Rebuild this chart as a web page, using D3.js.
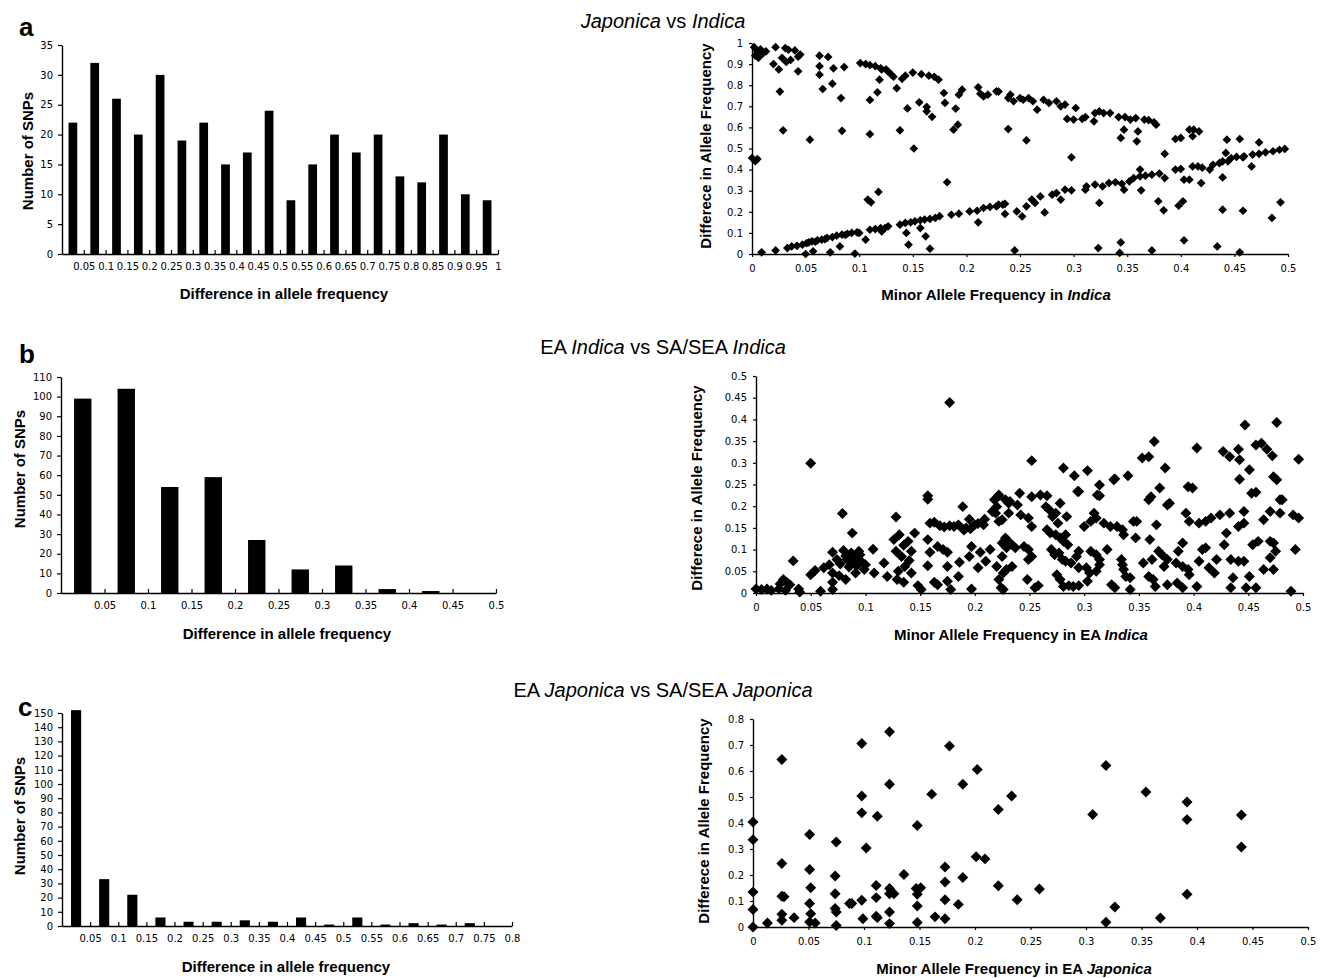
<!DOCTYPE html>
<html>
<head>
<meta charset="utf-8">
<script src="https://cdn.jsdelivr.net/npm/d3@7"></script>
<style>
  body { margin: 0; background: #fff; }
  svg { display: block; }
</style>
</head>
<body>
<script>
// ---- histogram data (number of SNPs per bin of allele frequency difference)
const countsA = [22, 32, 26, 20, 30, 19, 22, 15, 17, 24, 9, 15, 20, 17, 20, 13, 12, 20, 10, 9];
const countsB = [99, 104, 54, 59, 27, 12, 14, 2, 1, 0];
const countsC = [152, 33, 22, 6, 3, 3, 4, 3, 6, 1, 6, 1, 2, 1, 2, 0];

const binLabelsA = ["0.05","0.1","0.15","0.2","0.25","0.3","0.35","0.4","0.45","0.5","0.55","0.6","0.65","0.7","0.75","0.8","0.85","0.9","0.95","1"];
const binLabelsB = ["0.05","0.1","0.15","0.2","0.25","0.3","0.35","0.4","0.45","0.5"];
const binLabelsC = ["0.05","0.1","0.15","0.2","0.25","0.3","0.35","0.4","0.45","0.5","0.55","0.6","0.65","0.7","0.75","0.8"];

const countTicksA = [0, 5, 10, 15, 20, 25, 30, 35];
const countTicksB = [0, 10, 20, 30, 40, 50, 60, 70, 80, 90, 100, 110];
const countTicksC = [0, 10, 20, 30, 40, 50, 60, 70, 80, 90, 100, 110, 120, 130, 140, 150];

// ---- scatter axes
const mafTicks = [0, 0.05, 0.1, 0.15, 0.2, 0.25, 0.3, 0.35, 0.4, 0.45, 0.5];
const diffTicksA = [0, 0.1, 0.2, 0.3, 0.4, 0.5, 0.6, 0.7, 0.8, 0.9, 1];
const diffTicksB = [0, 0.05, 0.1, 0.15, 0.2, 0.25, 0.3, 0.35, 0.4, 0.45, 0.5];
const diffTicksC = [0, 0.1, 0.2, 0.3, 0.4, 0.5, 0.6, 0.7, 0.8];

// ---- scatter data: [minor allele frequency, difference in allele frequency]
const scatterA = [
  [0.002,0.98],[0.005,0.96],[0.008,0.97],[0.003,0.94],[0.010,0.95],[0.013,0.96],[0.006,0.93],
  [0.022,0.98],[0.031,0.976],[0.034,0.968],[0.040,0.965],[0.028,0.93],[0.032,0.91],[0.036,0.92],
  [0.045,0.945],[0.043,0.935],[0.020,0.90],[0.025,0.875],[0.043,0.866],[0.026,0.77],[0.029,0.586],
  [0.054,0.542],[0.000,0.455],[0.003,0.44],[0.005,0.45],[0.063,0.94],[0.071,0.934],[0.063,0.89],
  [0.063,0.85],[0.066,0.782],[0.076,0.88],[0.075,0.807],[0.086,0.886],[0.083,0.739],[0.084,0.584],
  [0.101,0.905],[0.106,0.90],[0.110,0.895],[0.115,0.89],[0.120,0.88],[0.125,0.875],
  [0.110,0.73],[0.110,0.568],[0.119,0.826],[0.117,0.766],[0.121,0.875],[0.127,0.865],[0.130,0.85],[0.132,0.84],
  [0.135,0.786],[0.138,0.586],[0.140,0.83],[0.143,0.845],[0.150,0.86],[0.158,0.852],[0.165,0.845],[0.170,0.84],
  [0.145,0.69],[0.156,0.719],[0.163,0.697],[0.163,0.676],[0.168,0.65],[0.151,0.50],
  [0.174,0.826],[0.179,0.763],[0.180,0.716],[0.190,0.689],[0.188,0.589],[0.192,0.613],[0.193,0.755],[0.196,0.779],
  [0.182,0.34],[0.211,0.79],[0.213,0.76],[0.216,0.747],[0.220,0.755],[0.230,0.77],[0.239,0.739],[0.239,0.592],
  [0.228,0.771],[0.241,0.755],[0.244,0.724],[0.250,0.739],[0.253,0.731],[0.258,0.739],[0.266,0.684],[0.262,0.724],
  [0.272,0.731],[0.277,0.716],[0.284,0.724],[0.288,0.70],[0.292,0.708],[0.302,0.692],
  [0.294,0.64],[0.300,0.637],[0.308,0.64],[0.311,0.649],[0.319,0.629],[0.320,0.668],[0.324,0.676],[0.328,0.668],[0.334,0.668],
  [0.342,0.649],[0.348,0.649],[0.353,0.637],[0.358,0.644],[0.366,0.637],[0.370,0.634],[0.375,0.624],[0.377,0.613],
  [0.256,0.539],[0.298,0.458],[0.344,0.55],[0.347,0.589],[0.359,0.534],[0.360,0.581],
  [0.385,0.475],[0.395,0.545],[0.400,0.55],[0.408,0.589],[0.412,0.589],[0.417,0.581],[0.411,0.558],
  [0.443,0.542],[0.455,0.545],[0.473,0.529],[0.442,0.479],[0.458,0.458],[0.466,0.415],
  [0.009,0.008],[0.022,0.017],[0.033,0.028],[0.037,0.036],[0.042,0.039],[0.047,0.044],[0.051,0.052],[0.053,0.055],
  [0.056,0.06],[0.059,0.058],[0.061,0.065],[0.065,0.068],[0.068,0.07],[0.07,0.076],[0.075,0.08],[0.079,0.087],
  [0.084,0.092],[0.087,0.09],[0.089,0.096],[0.093,0.1],[0.098,0.103],[0.100,0.1],
  [0.106,0.068],[0.11,0.115],[0.115,0.118],[0.12,0.123],[0.124,0.123],[0.127,0.131],[0.121,0.107],
  [0.138,0.139],[0.143,0.147],[0.148,0.15],[0.152,0.155],[0.157,0.16],[0.161,0.163],[0.166,0.166],[0.171,0.171],[0.175,0.179],
  [0.144,0.1],[0.157,0.123],[0.162,0.084],[0.146,0.044],[0.166,0.025],
  [0.186,0.186],[0.193,0.191],[0.203,0.202],[0.21,0.205],[0.216,0.218],[0.222,0.223],[0.228,0.226],[0.234,0.234],
  [0.211,0.15],[0.236,0.19],[0.073,0.008],[0.096,0.002],[0.082,0.036],[0.057,0.013],[0.05,0.0],
  [0.108,0.258],[0.111,0.245],[0.118,0.294],
  [0.23,0.234],[0.236,0.238],[0.247,0.202],[0.252,0.178],[0.256,0.226],[0.261,0.258],[0.264,0.242],[0.269,0.273],
  [0.273,0.197],[0.28,0.281],[0.284,0.289],[0.288,0.258],[0.292,0.305],[0.298,0.302],[0.311,0.305],[0.312,0.321],
  [0.32,0.329],[0.327,0.321],[0.324,0.242],
  [0.333,0.336],[0.339,0.34],[0.345,0.333],[0.352,0.344],[0.356,0.36],[0.362,0.368],[0.367,0.371],[0.373,0.376],[0.38,0.381],
  [0.347,0.305],[0.362,0.4],[0.363,0.302],[0.379,0.25],[0.384,0.207],
  [0.385,0.36],[0.395,0.4],[0.4,0.403],[0.403,0.352],[0.408,0.352],[0.411,0.415],[0.416,0.415],[0.419,0.336],[0.42,0.409],
  [0.427,0.4],[0.43,0.423],[0.436,0.431],[0.439,0.439],[0.444,0.439],[0.447,0.455],[0.452,0.46],[0.459,0.463],[0.467,0.471],
  [0.473,0.475],[0.479,0.482],[0.486,0.487],[0.492,0.494],[0.497,0.498],
  [0.402,0.25],[0.398,0.229],[0.439,0.363],[0.439,0.21],[0.458,0.205],[0.493,0.245],[0.485,0.171],
  [0.245,0.017],[0.323,0.028],[0.344,0.055],[0.343,0.005],[0.373,0.017],[0.403,0.065],[0.434,0.036],[0.455,0.008]
];

const scatterB = [
  [0,0.009],[0.005,0.008],[0.01,0.009],[0.014,0.006],[0.021,0.009],[0.022,0.021],[0.025,0.031],[0.028,0.025],
  [0.031,0.019],[0.027,0.006],[0.039,0.009],[0.04,0.002],[0.034,0.074],[0.05,0.299],
  [0.05,0.042],[0.054,0.052],[0.059,0.004],[0.062,0.058],[0.067,0.065],[0.07,0.094],[0.07,0.046],[0.07,0.025],[0.07,0.008],
  [0.079,0.183],[0.08,0.098],[0.074,0.077],[0.077,0.067],[0.076,0.04],[0.082,0.031],[0.083,0.077],[0.088,0.138],
  [0.087,0.092],[0.09,0.077],[0.093,0.084],[0.096,0.073],[0.099,0.054],[0.094,0.096],[0.091,0.046],
  [0.085,0.06],[0.088,0.07],[0.092,0.062],[0.095,0.088],[0.1,0.065],[0.082,0.085],
  [0.107,0.101],[0.108,0.046],[0.117,0.069],[0.12,0.038],
  [0.128,0.175],[0.126,0.123],[0.131,0.134],[0.128,0.096],[0.133,0.084],[0.136,0.061],[0.129,0.031],[0.139,0.119],
  [0.142,0.096],[0.145,0.138],[0.142,0.046],[0.148,0.017],[0.151,0.008],[0.135,0.11],[0.14,0.075],[0.13,0.05],[0.135,0.025],
  [0.157,0.224],[0.157,0.216],[0.159,0.161],[0.163,0.163],[0.157,0.123],[0.159,0.094],[0.157,0.063],[0.166,0.107],
  [0.163,0.025],[0.166,0.019],[0.171,0.1],[0.177,0.155],[0.177,0.439],
  [0.168,0.155],[0.172,0.152],[0.181,0.153],[0.19,0.145],[0.196,0.148],[0.203,0.16],
  [0.175,0.094],[0.175,0.061],[0.175,0.027],[0.178,0.008],[0.185,0.157],[0.189,0.199],[0.186,0.071],[0.185,0.038],
  [0.192,0.15],[0.195,0.17],[0.197,0.107],[0.195,0.084],[0.197,0.009],[0.2,0.157],[0.205,0.094],[0.203,0.058],
  [0.209,0.17],[0.208,0.157],[0.21,0.073],[0.214,0.1],[0.218,0.215],[0.216,0.188],[0.221,0.222],[0.22,0.199],
  [0.225,0.169],[0.226,0.046],[0.226,0.008],[0.229,0.123],[0.229,0.104],[0.232,0.211],[0.234,0.061],
  [0.252,0.305],[0.281,0.288],[0.291,0.27],[0.303,0.282],[0.295,0.234],[0.314,0.249],[0.314,0.224],[0.328,0.263],[0.34,0.27],
  [0.364,0.349],[0.353,0.311],[0.359,0.314],[0.374,0.288],[0.369,0.242],[0.361,0.222],[0.359,0.215],[0.378,0.207],
  [0.403,0.334],[0.399,0.242],
  [0.427,0.326],[0.433,0.314],[0.441,0.331],[0.447,0.387],[0.442,0.307],[0.457,0.341],[0.462,0.345],[0.467,0.331],
  [0.472,0.316],[0.476,0.393],[0.451,0.284],[0.442,0.262],[0.473,0.268],[0.476,0.261],[0.496,0.308],[0.457,0.232],[0.481,0.215],
  [0.222,0.226],[0.228,0.215],[0.231,0.207],[0.241,0.23],[0.239,0.203],[0.252,0.222],[0.26,0.226],[0.266,0.224],
  [0.265,0.199],[0.268,0.192],[0.271,0.176],[0.274,0.184],[0.278,0.207],[0.276,0.161],[0.284,0.176],[0.294,0.234],
  [0.312,0.226],[0.327,0.261],
  [0.219,0.184],[0.222,0.165],[0.231,0.184],[0.242,0.18],[0.249,0.173],[0.252,0.153],[0.228,0.127],[0.225,0.115],
  [0.234,0.111],[0.237,0.104],[0.245,0.107],[0.249,0.1],[0.249,0.077],[0.252,0.084],[0.225,0.084],[0.22,0.061],
  [0.229,0.054],[0.222,0.031],[0.224,0.012],[0.248,0.031],[0.255,0.012],[0.258,0.017],
  [0.266,0.146],[0.269,0.138],[0.274,0.134],[0.278,0.127],[0.281,0.119],[0.283,0.134],[0.285,0.111],[0.27,0.1],
  [0.273,0.088],[0.277,0.092],[0.28,0.077],[0.283,0.073],[0.288,0.069],[0.275,0.042],[0.278,0.031],[0.281,0.015],
  [0.286,0.017],[0.29,0.015],[0.295,0.017],[0.303,0.027],
  [0.295,0.096],[0.293,0.084],[0.295,0.058],[0.302,0.058],[0.305,0.046],[0.306,0.096],[0.311,0.088],[0.321,0.1],
  [0.314,0.077],[0.314,0.065],[0.311,0.05],[0.3,0.153],[0.306,0.165],[0.309,0.184],[0.311,0.173],[0.318,0.161],
  [0.324,0.153],[0.33,0.153],[0.335,0.146],[0.336,0.134],
  [0.325,0.019],[0.328,0.012],[0.334,0.077],[0.335,0.065],[0.336,0.054],[0.338,0.038],[0.342,0.008],[0.342,0.035],
  [0.345,0.165],[0.348,0.165],[0.347,0.127],[0.36,0.123],[0.366,0.157],[0.354,0.069],[0.362,0.077],[0.359,0.038],
  [0.363,0.031],[0.365,0.015],[0.368,0.096],[0.371,0.088],[0.376,0.077],[0.373,0.061],[0.376,0.019],[0.385,0.023],[0.39,0.012],
  [0.376,0.203],[0.395,0.245],[0.39,0.115],[0.386,0.096],[0.384,0.069],[0.39,0.061],[0.395,0.054],[0.396,0.042],
  [0.393,0.184],[0.396,0.165],[0.405,0.161],[0.411,0.165],[0.416,0.173],[0.424,0.18],[0.433,0.184],[0.446,0.188],
  [0.403,0.015],[0.408,0.1],[0.411,0.104],[0.405,0.073],[0.414,0.058],[0.419,0.046],[0.421,0.077],[0.428,0.111],
  [0.43,0.138],[0.434,0.077],[0.436,0.035],[0.434,0.012],[0.441,0.153],[0.446,0.161],[0.441,0.073],[0.446,0.073],
  [0.453,0.23],[0.454,0.111],[0.451,0.038],[0.448,0.012],[0.457,0.012],[0.459,0.119],[0.464,0.054],[0.47,0.119],
  [0.473,0.115],[0.473,0.054],[0.47,0.188],[0.464,0.169],[0.479,0.184],[0.479,0.215],[0.47,0.081],[0.475,0.096],
  [0.493,0.1],[0.489,0.004],[0.496,0.173],[0.491,0.18]
];

const scatterC = [
  [0,0.404],[0,0.336],[0,0.135],[0,0.067],[0,0],
  [0.013,0.015],[0.026,0.644],[0.026,0.244],[0.026,0.118],[0.028,0.116],[0.026,0.049],[0.026,0.026],[0.037,0.036],
  [0.051,0.356],[0.051,0.221],[0.052,0.151],[0.051,0.09],[0.052,0.051],[0.051,0.019],[0.056,0.015],
  [0.075,0.327],[0.074,0.196],[0.074,0.128],[0.074,0.071],[0.075,0.058],[0.075,0.006],
  [0.087,0.09],[0.089,0.09],
  [0.098,0.706],[0.098,0.504],[0.098,0.439],[0.102,0.304],[0.098,0.103],[0.099,0.032],
  [0.112,0.426],[0.111,0.16],[0.111,0.113],[0.111,0.041],[0.112,0.036],
  [0.123,0.751],[0.123,0.549],[0.123,0.148],[0.123,0.128],[0.127,0.128],[0.123,0.058],[0.123,0.013],
  [0.136,0.202],
  [0.148,0.39],[0.147,0.148],[0.151,0.151],[0.148,0.126],[0.148,0.081],[0.148,0.017],
  [0.161,0.511],[0.164,0.039],[0.173,0.032],[0.173,0.231],[0.173,0.173],[0.173,0.105],
  [0.177,0.696],[0.185,0.087],[0.189,0.549],[0.189,0.19],
  [0.202,0.606],[0.201,0.27],[0.209,0.262],[0.221,0.159],[0.221,0.452],[0.233,0.504],
  [0.238,0.105],[0.258,0.146],
  [0.306,0.433],[0.318,0.621],[0.326,0.077],[0.318,0.018],
  [0.354,0.519],[0.367,0.035],
  [0.391,0.481],[0.391,0.413],[0.391,0.126],
  [0.44,0.431],[0.44,0.308]
];

const W = 1326, H = 978;
const svg = d3.select("body").append("svg")
  .attr("width", W).attr("height", H);

const tickFont = "'DejaVu Sans', Verdana, sans-serif";
const boldFont = "'Liberation Sans', Arial, sans-serif";

function styleAxis(g) {
  g.attr("font-family", tickFont).attr("font-size", 10);
  g.select(".domain").attr("stroke", "#000").attr("stroke-width", 1.4);
  g.selectAll(".tick line").attr("stroke", "#000").attr("stroke-width", 1.2);
  g.selectAll(".tick text").attr("fill", "#000");
}

function drawHist(cfg) {
  const g = svg.append("g");
  const n = cfg.counts.length;
  const x = d3.scaleBand().domain(d3.range(n))
    .range([cfg.left, cfg.right]).paddingInner(cfg.pad).paddingOuter(cfg.pad / 2);
  const xe = d3.scaleLinear().domain([0, n]).range([cfg.left, cfg.right]);
  const y = d3.scaleLinear().domain([0, d3.max(cfg.yTicks)]).range([cfg.bottom, cfg.top]);

  g.selectAll("rect").data(cfg.counts).join("rect")
    .attr("x", (d, i) => x(i))
    .attr("width", x.bandwidth())
    .attr("y", d => y(d))
    .attr("height", d => y(0) - y(d))
    .attr("fill", "#000");

  g.append("g").attr("transform", `translate(0,${cfg.bottom})`)
    .call(d3.axisBottom(xe).tickValues(d3.range(1, n + 1))
      .tickFormat(i => cfg.labels[i - 1]).tickSizeInner(-4).tickSizeOuter(0).tickPadding(9))
    .call(styleAxis);

  g.append("g").attr("transform", `translate(${cfg.left},0)`)
    .call(d3.axisLeft(y).tickValues(cfg.yTicks).tickFormat(d3.format("d"))
      .tickSize(4).tickSizeOuter(0).tickPadding(5))
    .call(styleAxis);

  g.append("text")
    .attr("x", cfg.xTitle[0]).attr("y", cfg.xTitle[1])
    .attr("text-anchor", "middle")
    .style("font-family", boldFont).style("font-weight", "bold").style("font-size", "15px")
    .text("Difference in allele frequency");

  g.append("text")
    .attr("transform", `translate(${cfg.yTitle[0]},${cfg.yTitle[1]}) rotate(-90)`)
    .attr("text-anchor", "middle").attr("dy", "0.35em")
    .style("font-family", boldFont).style("font-weight", "bold").style("font-size", "15px")
    .text("Number of SNPs");
}

function drawScatter(cfg) {
  const g = svg.append("g");
  const x = d3.scaleLinear().domain([0, 0.5]).range([cfg.left, cfg.right]);
  const y = d3.scaleLinear().domain([0, d3.max(cfg.yTicks)]).range([cfg.bottom, cfg.top]);

  g.append("g").attr("transform", `translate(0,${cfg.bottom})`)
    .call(d3.axisBottom(x).tickValues(mafTicks).tickFormat(d => String(d))
      .tickSize(3).tickSizeOuter(0).tickPadding(8))
    .call(styleAxis);

  g.append("g").attr("transform", `translate(${cfg.left},0)`)
    .call(d3.axisLeft(y).tickValues(cfg.yTicks).tickFormat(d => String(d))
      .tickSize(3).tickSizeOuter(0).tickPadding(6))
    .call(styleAxis);

  const diamond = d3.symbol(d3.symbolSquare, cfg.size)();
  g.selectAll("path.pt").data(cfg.points).join("path")
    .attr("class", "pt")
    .attr("d", diamond)
    .attr("transform", d => `translate(${x(d[0])},${y(d[1])}) rotate(45)`)
    .attr("fill", "#000");

  const xt = g.append("text")
    .attr("x", cfg.xTitle[0]).attr("y", cfg.xTitle[1])
    .attr("text-anchor", "middle")
    .style("font-family", boldFont).style("font-weight", "bold").style("font-size", "15px");
  xt.append("tspan").text(cfg.xPrefix);
  xt.append("tspan").style("font-style", "italic").text(cfg.xItalic);

  g.append("text")
    .attr("transform", `translate(${cfg.yTitle[0]},${cfg.yTitle[1]}) rotate(-90)`)
    .attr("text-anchor", "middle").attr("dy", "0.35em")
    .style("font-family", boldFont).style("font-weight", "bold").style("font-size", "15px")
    .text("Differece in Allele Frequency");
}

function title(y, parts) {
  const t = svg.append("text").attr("x", 663).attr("y", y)
    .attr("text-anchor", "middle")
    .style("font-family", boldFont).style("font-size", "20px");
  parts.forEach(p => t.append("tspan").style("font-style", p[1] ? "italic" : "normal").text(p[0]));
}

function letter(x, y, s) {
  svg.append("text").attr("x", x).attr("y", y)
    .style("font-family", boldFont).style("font-weight", "bold").style("font-size", "26px")
    .text(s);
}

// ---- panel a
title(28, [["Japonica", true], [" vs ", false], ["Indica", true]]);
letter(19, 36, "a");
drawHist({counts: countsA, labels: binLabelsA, yTicks: countTicksA, pad: 0.6,
  left: 62, right: 498, top: 45, bottom: 254, xTitle: [284, 299], yTitle: [28, 151]});
drawScatter({points: scatterA, yTicks: diffTicksA, size: 38,
  left: 752, right: 1288, top: 43, bottom: 254,
  xTitle: [996, 300], yTitle: [706, 146], xPrefix: "Minor Allele Frequency in ", xItalic: "Indica"});

// ---- panel b
title(354, [["EA ", false], ["Indica", true], [" vs SA/SEA ", false], ["Indica", true]]);
letter(19, 363, "b");
drawHist({counts: countsB, labels: binLabelsB, yTicks: countTicksB, pad: 0.6,
  left: 61, right: 496, top: 377, bottom: 593, xTitle: [287, 639], yTitle: [20, 469]});
drawScatter({points: scatterB, yTicks: diffTicksB, size: 60,
  left: 756, right: 1303, top: 376, bottom: 593,
  xTitle: [1021, 640], yTitle: [697, 488], xPrefix: "Minor Allele Frequency in EA ", xItalic: "Indica"});

// ---- panel c
title(697, [["EA ", false], ["Japonica", true], [" vs SA/SEA ", false], ["Japonica", true]]);
letter(18, 716, "c");
drawHist({counts: countsC, labels: binLabelsC, yTicks: countTicksC, pad: 0.64,
  left: 62, right: 512, top: 713, bottom: 926, xTitle: [286, 972], yTitle: [20, 816]});
drawScatter({points: scatterC, yTicks: diffTicksC, size: 60,
  left: 753, right: 1308, top: 719, bottom: 927,
  xTitle: [1014, 974], yTitle: [704, 821], xPrefix: "Minor Allele Frequency in EA ", xItalic: "Japonica"});
</script>
</body>
</html>
